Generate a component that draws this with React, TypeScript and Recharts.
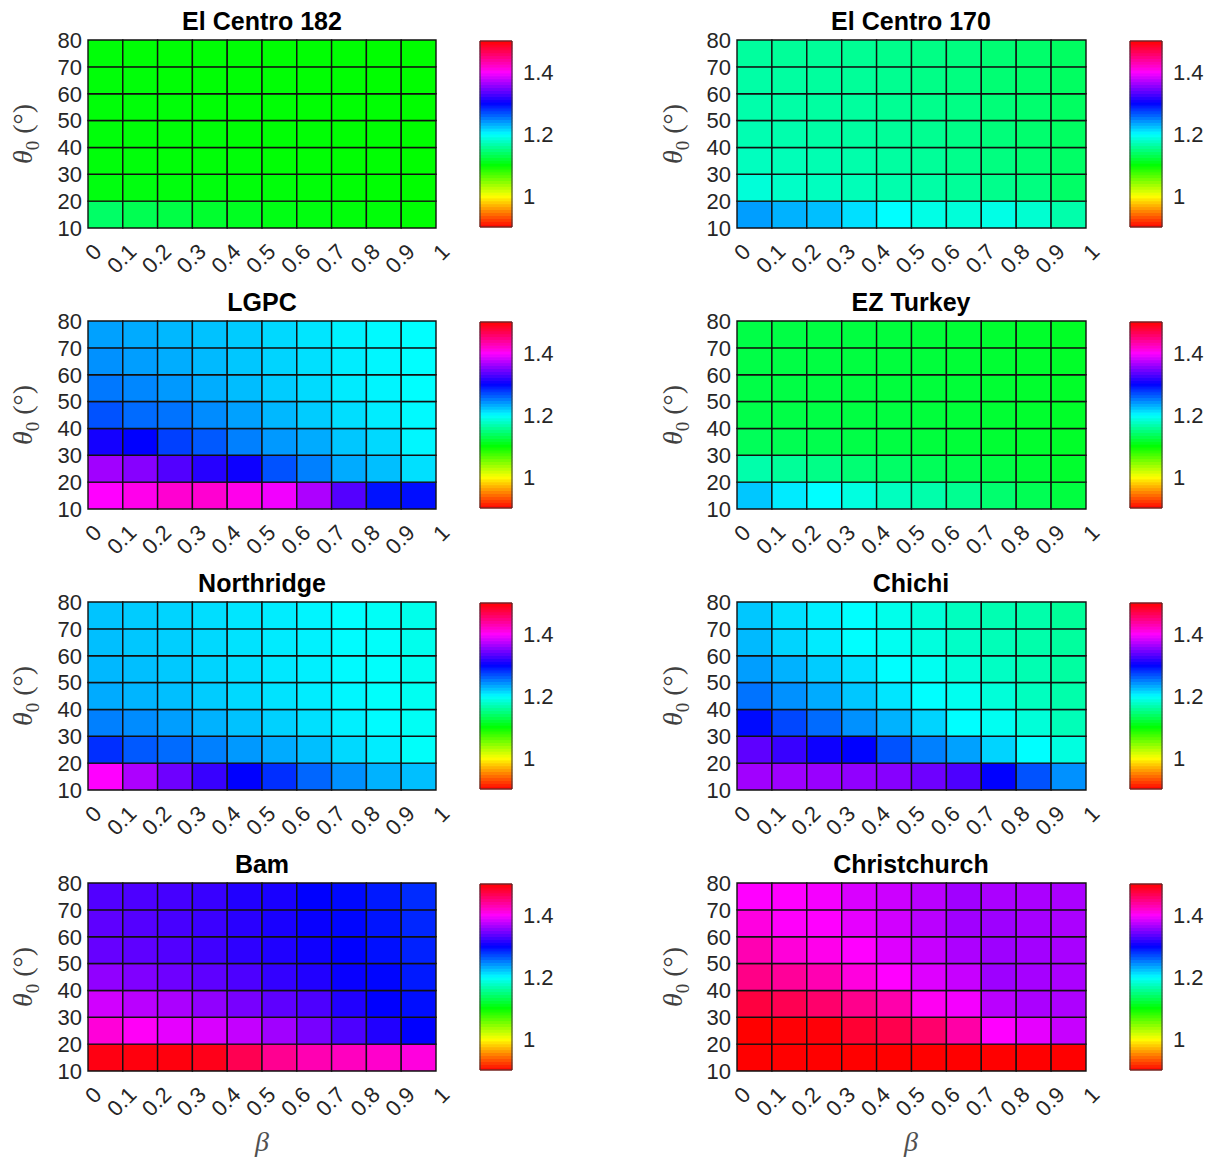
import { ScatterChart, Scatter, XAxis, YAxis, ReferenceArea } from 'recharts';

const BETA_EDGES = [0, 0.1, 0.2, 0.3, 0.4, 0.5, 0.6, 0.7, 0.8, 0.9, 1];
const THETA_EDGES = [10, 20, 30, 40, 50, 60, 70, 80];
const CBAR_TICKS = [1, 1.2, 1.4];
const C_MIN = 0.9;
const C_MAX = 1.5;

// each panel: rows from theta0 = 10-20 (first) up to 70-80 (last), columns beta 0..0.9
const elCentro182 = [
  [1.140, 1.132, 1.127, 1.118, 1.113, 1.108, 1.106, 1.104, 1.103, 1.101],
  [1.106, 1.106, 1.105, 1.105, 1.104, 1.104, 1.103, 1.102, 1.101, 1.100],
  [1.104, 1.104, 1.103, 1.103, 1.103, 1.102, 1.102, 1.101, 1.101, 1.100],
  [1.104, 1.103, 1.103, 1.103, 1.102, 1.102, 1.102, 1.101, 1.101, 1.100],
  [1.103, 1.103, 1.103, 1.102, 1.102, 1.102, 1.101, 1.101, 1.101, 1.100],
  [1.103, 1.103, 1.102, 1.102, 1.102, 1.102, 1.101, 1.101, 1.100, 1.100],
  [1.103, 1.102, 1.102, 1.102, 1.102, 1.101, 1.101, 1.101, 1.100, 1.100],
];

const elCentro170 = [
  [1.238, 1.230, 1.225, 1.212, 1.200, 1.190, 1.185, 1.190, 1.182, 1.167],
  [1.185, 1.178, 1.175, 1.172, 1.168, 1.165, 1.160, 1.155, 1.150, 1.140],
  [1.175, 1.172, 1.170, 1.167, 1.163, 1.160, 1.155, 1.150, 1.145, 1.140],
  [1.170, 1.168, 1.165, 1.163, 1.160, 1.157, 1.153, 1.148, 1.143, 1.138],
  [1.167, 1.165, 1.163, 1.162, 1.158, 1.155, 1.152, 1.147, 1.143, 1.138],
  [1.165, 1.163, 1.162, 1.160, 1.157, 1.153, 1.150, 1.145, 1.142, 1.138],
  [1.162, 1.160, 1.160, 1.158, 1.155, 1.152, 1.150, 1.145, 1.142, 1.138],
];

const lgpc = [
  [1.400, 1.408, 1.418, 1.418, 1.408, 1.395, 1.368, 1.333, 1.293, 1.295],
  [1.363, 1.353, 1.332, 1.315, 1.305, 1.268, 1.250, 1.233, 1.225, 1.212],
  [1.308, 1.300, 1.275, 1.265, 1.250, 1.240, 1.233, 1.222, 1.215, 1.203],
  [1.268, 1.258, 1.255, 1.245, 1.237, 1.228, 1.220, 1.213, 1.207, 1.202],
  [1.253, 1.247, 1.240, 1.232, 1.226, 1.220, 1.214, 1.208, 1.204, 1.200],
  [1.243, 1.238, 1.232, 1.227, 1.222, 1.217, 1.212, 1.207, 1.203, 1.200],
  [1.237, 1.233, 1.228, 1.224, 1.220, 1.215, 1.210, 1.205, 1.202, 1.200],
];

const ezTurkey = [
  [1.222, 1.208, 1.200, 1.188, 1.175, 1.167, 1.157, 1.143, 1.133, 1.125],
  [1.167, 1.160, 1.153, 1.145, 1.140, 1.135, 1.130, 1.127, 1.122, 1.118],
  [1.135, 1.132, 1.130, 1.128, 1.126, 1.124, 1.122, 1.120, 1.118, 1.116],
  [1.129, 1.128, 1.127, 1.126, 1.125, 1.123, 1.122, 1.120, 1.118, 1.116],
  [1.128, 1.127, 1.126, 1.125, 1.124, 1.123, 1.122, 1.120, 1.118, 1.116],
  [1.128, 1.127, 1.126, 1.125, 1.124, 1.123, 1.121, 1.120, 1.118, 1.116],
  [1.128, 1.127, 1.126, 1.125, 1.124, 1.122, 1.121, 1.119, 1.117, 1.115],
];

const northridge = [
  [1.400, 1.368, 1.343, 1.322, 1.300, 1.282, 1.260, 1.243, 1.230, 1.225],
  [1.282, 1.265, 1.258, 1.250, 1.240, 1.233, 1.225, 1.215, 1.207, 1.198],
  [1.250, 1.245, 1.238, 1.230, 1.224, 1.218, 1.212, 1.206, 1.201, 1.196],
  [1.233, 1.229, 1.225, 1.220, 1.215, 1.211, 1.207, 1.203, 1.199, 1.195],
  [1.228, 1.225, 1.221, 1.217, 1.213, 1.209, 1.206, 1.202, 1.199, 1.194],
  [1.225, 1.222, 1.219, 1.215, 1.211, 1.208, 1.205, 1.201, 1.198, 1.193],
  [1.223, 1.220, 1.217, 1.213, 1.210, 1.207, 1.204, 1.200, 1.197, 1.192],
];

const chichi = [
  [1.363, 1.362, 1.360, 1.357, 1.353, 1.343, 1.330, 1.300, 1.268, 1.243],
  [1.337, 1.322, 1.305, 1.300, 1.268, 1.250, 1.237, 1.217, 1.200, 1.188],
  [1.296, 1.272, 1.258, 1.243, 1.230, 1.217, 1.200, 1.195, 1.185, 1.172],
  [1.255, 1.243, 1.233, 1.222, 1.210, 1.200, 1.194, 1.185, 1.175, 1.167],
  [1.238, 1.230, 1.220, 1.212, 1.200, 1.195, 1.185, 1.177, 1.170, 1.163],
  [1.227, 1.217, 1.208, 1.200, 1.195, 1.187, 1.178, 1.172, 1.167, 1.162],
  [1.222, 1.212, 1.206, 1.200, 1.192, 1.185, 1.175, 1.170, 1.167, 1.160],
];

const bam = [
  [1.493, 1.495, 1.495, 1.490, 1.468, 1.443, 1.430, 1.425, 1.420, 1.413],
  [1.415, 1.403, 1.390, 1.385, 1.377, 1.363, 1.347, 1.330, 1.313, 1.300],
  [1.382, 1.373, 1.367, 1.357, 1.347, 1.337, 1.330, 1.313, 1.300, 1.295],
  [1.357, 1.350, 1.343, 1.337, 1.330, 1.320, 1.313, 1.303, 1.298, 1.290],
  [1.340, 1.337, 1.332, 1.325, 1.318, 1.312, 1.306, 1.300, 1.294, 1.287],
  [1.337, 1.333, 1.328, 1.323, 1.316, 1.310, 1.303, 1.298, 1.292, 1.285],
  [1.332, 1.330, 1.327, 1.322, 1.313, 1.310, 1.300, 1.297, 1.290, 1.283],
];

const christchurch = [
  [1.500, 1.500, 1.500, 1.500, 1.500, 1.500, 1.500, 1.500, 1.500, 1.500],
  [1.500, 1.498, 1.497, 1.480, 1.470, 1.458, 1.435, 1.400, 1.390, 1.378],
  [1.475, 1.468, 1.458, 1.445, 1.433, 1.405, 1.396, 1.373, 1.367, 1.368],
  [1.447, 1.440, 1.430, 1.413, 1.400, 1.387, 1.378, 1.362, 1.365, 1.367],
  [1.430, 1.415, 1.408, 1.400, 1.387, 1.378, 1.368, 1.362, 1.364, 1.366],
  [1.412, 1.402, 1.400, 1.390, 1.382, 1.373, 1.363, 1.362, 1.365, 1.367],
  [1.400, 1.400, 1.396, 1.385, 1.380, 1.373, 1.363, 1.367, 1.367, 1.367],
];

const PANELS = [
  [{ title: 'El Centro 182', values: elCentro182 }, { title: 'El Centro 170', values: elCentro170 }],
  [{ title: 'LGPC', values: lgpc }, { title: 'EZ Turkey', values: ezTurkey }],
  [{ title: 'Northridge', values: northridge }, { title: 'Chichi', values: chichi }],
  [{ title: 'Bam', values: bam }, { title: 'Christchurch', values: christchurch }],
];

const SANS = '"Liberation Sans", Arial, Helvetica, sans-serif';
const SERIF = '"Liberation Serif", "Times New Roman", serif';
const TXT = '#262626';
const ROW_STEP = 281;
const CMAP_STEPS = 64;

// matlab hsv colormap: red -> yellow -> green -> cyan -> blue -> magenta -> red
function hsvColor(v: number) {
  const t = Math.min(Math.max((v - C_MIN) / (C_MAX - C_MIN), 0), 1);
  return `hsl(${(t * 360).toFixed(1)}, 100%, 50%)`;
}

const hiddenShape = () => <g />;

function BetaTick(props: any) {
  const { x, y, payload } = props;
  const ax = x + 15;
  const ay = y + 25;
  return (
    <text x={ax} y={ay} textAnchor="end" transform={`rotate(-45 ${ax} ${ay})`}
      fontSize={22} fontFamily={SANS} fill={TXT}>
      {String(payload.value)}
    </text>
  );
}

function Heatmap({ values, left, top, yWidth }: { values: number[][]; left: number; top: number; yWidth: number }) {
  const centers: { b: number; t: number }[] = [];
  values.forEach((row, r) => row.forEach((_, c) => centers.push({
    b: (BETA_EDGES[c] + BETA_EDGES[c + 1]) / 2,
    t: (THETA_EDGES[r] + THETA_EDGES[r + 1]) / 2,
  })));

  return (
    <div style={{ position: 'absolute', left, top }}>
      <ScatterChart width={460} height={280} margin={{ top: 40, right: 24, bottom: 22, left: 0 }}>
        <XAxis type="number" dataKey="b" domain={[0, 1]} ticks={BETA_EDGES} interval={0}
          tick={<BetaTick />} tickLine={false} axisLine={false} tickSize={0} tickMargin={0} height={30} />
        <YAxis type="number" dataKey="t" domain={[10, 80]} ticks={THETA_EDGES} interval={0} width={yWidth}
          tickLine={false} axisLine={false} tickSize={0} tickMargin={6}
          tick={{ fontSize: 22, fontFamily: SANS, fill: TXT }} />
        <Scatter data={centers} shape={hiddenShape} isAnimationActive={false} />
        {values.map((row, r) => row.map((v, c) => (
          <ReferenceArea key={`${r}-${c}`}
            x1={BETA_EDGES[c]} x2={BETA_EDGES[c + 1]}
            y1={THETA_EDGES[r]} y2={THETA_EDGES[r + 1]}
            fill={hsvColor(v)} fillOpacity={1} stroke="#111" strokeWidth={1.4} />
        )))}
      </ScatterChart>
    </div>
  );
}

function ColorBar({ left, top }: { left: number; top: number }) {
  const step = (C_MAX - C_MIN) / CMAP_STEPS;
  const slices = Array.from({ length: CMAP_STEPS }, (_, i) => C_MIN + i * step);
  return (
    <div style={{ position: 'absolute', left, top }}>
      <ScatterChart width={120} height={280} margin={{ top: 41, right: 0, bottom: 53, left: 40 }}>
        <XAxis type="number" dataKey="x" domain={[0, 1]} hide />
        <YAxis type="number" dataKey="v" orientation="right" domain={[C_MIN, C_MAX]} ticks={CBAR_TICKS}
          interval={0} width={48} tickLine={false} axisLine={false} tickSize={0} tickMargin={11}
          tick={{ fontSize: 22, fontFamily: SANS, fill: TXT }} />
        <Scatter data={[{ x: 0.5, v: 1.2 }]} shape={hiddenShape} isAnimationActive={false} />
        {slices.map((s, i) => {
          const col = hsvColor(s + step / 2);
          return (
            <ReferenceArea key={i} x1={0} x2={1} y1={s} y2={s + step}
              fill={col} fillOpacity={1} stroke={col} strokeWidth={1} />
          );
        })}
        <ReferenceArea x1={0} x2={1} y1={C_MIN} y2={C_MAX} fill="none" fillOpacity={0}
          stroke="#333" strokeWidth={1} />
      </ScatterChart>
    </div>
  );
}

export default function App() {
  return (
    <div style={{ position: 'absolute', left: 0, top: 0, width: 1217, height: 1159, background: '#fff' }}>
      {PANELS.map((pair, r) => (
        <div key={r}>
          <Heatmap values={pair[0].values} left={0} top={r * ROW_STEP} yWidth={88} />
          <ColorBar left={440} top={r * ROW_STEP} />
          <Heatmap values={pair[1].values} left={650} top={r * ROW_STEP} yWidth={87} />
          <ColorBar left={1090} top={r * ROW_STEP} />
        </div>
      ))}
      <svg width={1217} height={1159} style={{ position: 'absolute', left: 0, top: 0, pointerEvents: 'none' }}>
        {PANELS.map((pair, r) => pair.map((p, c) => {
          const cx = c === 0 ? 262 : 911;
          const ly = 134 + r * ROW_STEP;
          const lx = c === 0 ? 32 : 682;
          return (
            <g key={`${r}-${c}`}>
              <text x={cx} y={30 + r * ROW_STEP} textAnchor="middle" fontSize={25} fontWeight="bold"
                fontFamily={SANS} fill="#000">{p.title}</text>
              <text x={lx} y={ly} textAnchor="middle" transform={`rotate(-90 ${lx} ${ly})`}
                fontSize={28} fontFamily={SERIF} fill="#404040">
                <tspan fontStyle="italic">θ</tspan>
                <tspan fontSize={19} dy={7}>0</tspan>
                <tspan dy={-7}> (°)</tspan>
              </text>
            </g>
          );
        }))}
        <text x={262} y={1151} textAnchor="middle" fontSize={28} fontStyle="italic" fontFamily={SERIF} fill="#505050">β</text>
        <text x={911} y={1151} textAnchor="middle" fontSize={28} fontStyle="italic" fontFamily={SERIF} fill="#505050">β</text>
      </svg>
    </div>
  );
}
